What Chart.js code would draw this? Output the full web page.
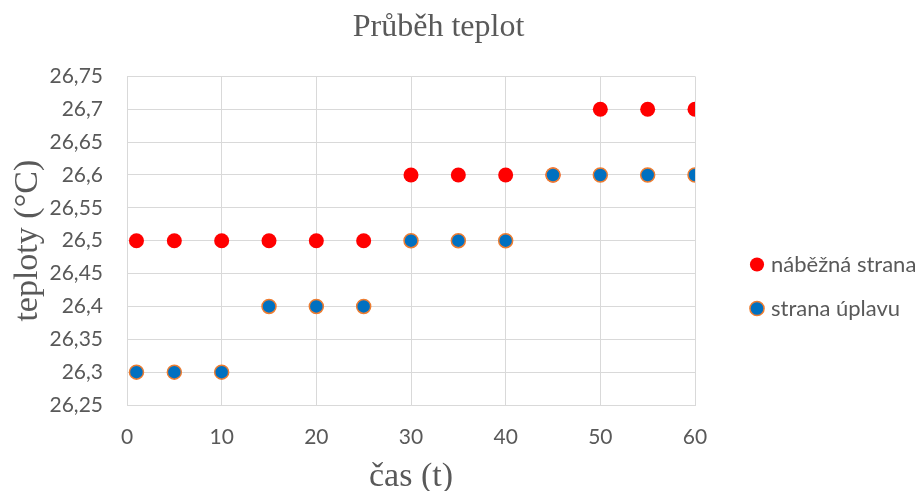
<!DOCTYPE html>
<html>
<head>
<meta charset="utf-8">
<script src="https://cdn.jsdelivr.net/npm/chart.js@4.4.0/dist/chart.umd.min.js"></script>
<style>
  html, body { margin: 0; padding: 0; background: #fff; }
  #wrap { width: 919px; height: 491px; }
</style>
</head>
<body>
<div id="wrap"><canvas id="tempChart" width="919" height="491"></canvas></div>
<script>
// time (t)
const casX = [1, 5, 10, 15, 20, 25, 30, 35, 40, 45, 50, 55, 60];
// náběžná strana
const nabeznaY = [26.5, 26.5, 26.5, 26.5, 26.5, 26.5, 26.6, 26.6, 26.6, 26.6, 26.7, 26.7, 26.7];
// strana úplavu
const uplavuY = [26.3, 26.3, 26.3, 26.4, 26.4, 26.4, 26.5, 26.5, 26.5, 26.6, 26.6, 26.6, 26.6];

const seriesNames = ["náběžná strana", "strana úplavu"];

function toPoints(xs, ys) {
    return xs.map((x, i) => ({ x: x, y: ys[i] }));
}

const grey = "#595959";
const gridCol = "#d9d9d9";
const sans = "Lato, 'Liberation Sans', sans-serif";
const serif = "'Liberation Serif', 'DejaVu Serif', serif";

// fixed legend width, then nudge the legend items and the title into place
const legendPlace = {
    id: "legendPlace",
    beforeLayout(chart) {
        const lg = chart.legend;
        if (lg && !lg._patched) {
            const fit = lg.fit;
            lg.fit = function () {
                fit.call(this);
                this.width = 220;
            };
            lg._patched = true;
        }
    },
    afterLayout(chart) {
        const lg = chart.legend;
        lg.left += 37;
        lg.right += 37;
        lg.top += 39;
        lg.bottom += 39;
        const tb = chart.titleBlock;
        tb.left -= 23;
        tb.right -= 23;
    }
};

new Chart("tempChart", {
    type: "scatter",
    data: {
        datasets: [{
            label: seriesNames[0],
            data: toPoints(casX, nabeznaY),
            backgroundColor: "#ff0000",
            borderColor: "#ff0000",
            borderWidth: 0,
            pointRadius: 7.5,
            pointHoverRadius: 7.5,
            order: 1
        }, {
            label: seriesNames[1],
            data: toPoints(casX, uplavuY),
            backgroundColor: "#0070c0",
            borderColor: "#ed7d31",
            borderWidth: 1.5,
            pointRadius: 7,
            pointHoverRadius: 7,
            order: 0
        }]
    },
    plugins: [legendPlace],
    options: {
        responsive: false,
        animation: false,
        layout: { padding: { left: 8, right: 4, top: 4, bottom: 0 } },
        plugins: {
            title: {
                display: true,
                text: "Průběh teplot",
                color: grey,
                font: { family: serif, size: 32, weight: "normal" },
                padding: { top: 4, bottom: 30 }
            },
            legend: {
                position: "right",
                labels: {
                    usePointStyle: true,
                    boxHeight: 10,
                    boxWidth: 6,
                    padding: 22,
                    color: grey,
                    font: { family: sans, size: 22 },
                    sort: (a, b) => a.datasetIndex - b.datasetIndex
                }
            },
            tooltip: { enabled: false }
        },
        scales: {
            x: {
                type: "linear",
                min: 0,
                max: 60,
                afterFit: (scale) => { scale.height = 86; },
                ticks: {
                    stepSize: 10,
                    color: grey,
                    padding: 20,
                    font: { family: sans, size: 21 }
                },
                grid: { color: gridCol, drawTicks: false },
                border: { color: gridCol },
                title: {
                    display: true,
                    text: "čas (t)",
                    color: grey,
                    font: { family: serif, size: 34, lineHeight: 0.8 },
                    padding: { top: 0, bottom: 0 }
                }
            },
            y: {
                min: 26.25,
                max: 26.75,
                afterFit: (scale) => { scale.width = 119; },
                ticks: {
                    stepSize: 0.05,
                    color: grey,
                    padding: 24,
                    font: { family: sans, size: 21 },
                    callback: function (v) {
                        return (+v.toFixed(2)).toString().replace(".", ",");
                    }
                },
                grid: { color: gridCol, drawTicks: false },
                border: { color: gridCol },
                title: {
                    display: true,
                    text: "teploty (°C)",
                    color: grey,
                    font: { family: serif, size: 34 },
                    padding: { top: 0, bottom: 0 }
                }
            }
        }
    }
});
</script>
</body>
</html>
